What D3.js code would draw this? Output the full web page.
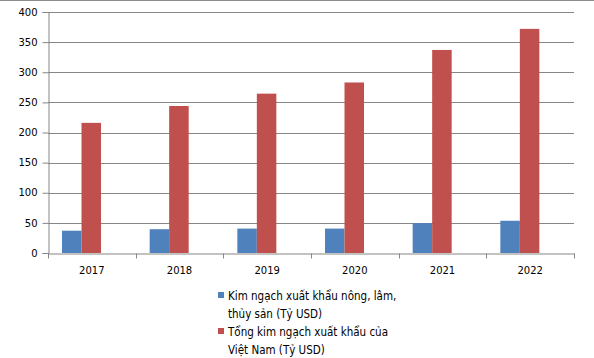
<!DOCTYPE html>
<html>
<head>
<meta charset="utf-8">
<script src="https://cdn.jsdelivr.net/npm/d3@7"></script>
<style>
  html, body { margin: 0; padding: 0; background: #fff; }
  svg { display: block; font-family: "DejaVu Sans", Verdana, sans-serif; }
</style>
</head>
<body>
<svg id="chart" width="594" height="358"></svg>
<script>
const years = ["2017", "2018", "2019", "2020", "2021", "2022"];
const agroExports = [37, 39.5, 40.5, 40.5, 49.5, 53.5];
const totalExports = [216, 244, 264.5, 283, 337, 372];
const yTicks = [0, 50, 100, 150, 200, 250, 300, 350, 400];
const seriesNames = [
  ["Kim ngạch xuất khẩu nông, lâm,", "thủy sản (Tỷ USD)"],
  ["Tổng kim ngạch xuất khẩu của", "Việt Nam (Tỷ USD)"]
];
const seriesColors = ["#4F81BD", "#C0504D"];

const svg = d3.select("#chart");
const plotLeft = 48, plotRight = 574, plotTop = 12, plotBottom = 253;

const x = d3.scaleBand().domain(years).range([plotLeft, plotRight]).paddingInner(0).paddingOuter(0);
const y = d3.scaleLinear().domain([0, 400]).range([plotBottom, plotTop]);
const xs = d3.scaleBand().domain([0, 1]).range([0, 39]);
const groupOffset = 14;

// top border
svg.append("line").attr("x1", 0).attr("x2", 594).attr("y1", 0.5).attr("y2", 0.5)
  .attr("stroke", "#8c8c8c").attr("stroke-width", 1);

// gridlines
svg.append("g").selectAll("line").data(yTicks.filter(d => d > 0)).join("line")
  .attr("x1", plotLeft).attr("x2", plotRight)
  .attr("y1", d => Math.round(y(d)) + 0.5).attr("y2", d => Math.round(y(d)) + 0.5)
  .attr("stroke", "#868686").attr("stroke-width", 1);

// bars
const data = years.map((yr, i) => ({ yr, vals: [agroExports[i], totalExports[i]] }));
const groups = svg.append("g").selectAll("g").data(data).join("g")
  .attr("transform", d => `translate(${x(d.yr) + groupOffset},0)`);
groups.selectAll("rect").data(d => d.vals.map((v, k) => ({ v, k }))).join("rect")
  .attr("x", d => xs(d.k))
  .attr("width", xs.bandwidth())
  .attr("y", d => y(d.v))
  .attr("height", d => y(0) - y(d.v))
  .attr("fill", d => seriesColors[d.k]);

// y axis
const yAxis = d3.axisLeft(y).tickValues(yTicks).tickSize(6).tickPadding(5);
const gy = svg.append("g").attr("transform", `translate(${plotLeft + 0.5},0)`).call(yAxis);
gy.select(".domain").attr("stroke", "#868686");
gy.selectAll(".tick line").attr("stroke", "#868686");
gy.selectAll(".tick text").attr("font-size", 10).attr("fill", "#000").attr("font-family", "DejaVu Sans");

// x axis
const xAxis = d3.axisBottom(x).tickSize(0).tickPadding(13);
const gx = svg.append("g").attr("transform", `translate(0,${plotBottom + 0.5})`).call(xAxis);
gx.select(".domain").attr("stroke", "#868686");
gx.selectAll(".tick text").attr("font-size", 10).attr("fill", "#000").attr("font-family", "DejaVu Sans");
// category boundary ticks
const bounds = years.map(yr => x(yr)).concat([x(years[years.length - 1]) + x.bandwidth()]);
gx.selectAll(".bound").data(bounds).join("line").attr("class", "bound")
  .attr("x1", d => Math.round(d) + 0.5).attr("x2", d => Math.round(d) + 0.5)
  .attr("y1", 0).attr("y2", 5).attr("stroke", "#868686");

// legend
const legend = svg.append("g").attr("transform", "translate(218,0)");
const legY = [300, 336];
seriesNames.forEach((lines, k) => {
  legend.append("rect").attr("x", 0).attr("y", legY[k] - 8).attr("width", 6).attr("height", 6)
    .attr("fill", seriesColors[k]);
  const t = legend.append("text").attr("x", 10).attr("y", legY[k])
    .attr("font-size", 11.5).attr("fill", "#000")
    .attr("font-family", "'DejaVu Sans Condensed', 'DejaVu Sans', sans-serif")
    .attr("font-stretch", "condensed");
  lines.forEach((ln, j) => {
    t.append("tspan").attr("x", 10).attr("dy", j === 0 ? 0 : 18).text(ln);
  });
});
</script>
</body>
</html>
